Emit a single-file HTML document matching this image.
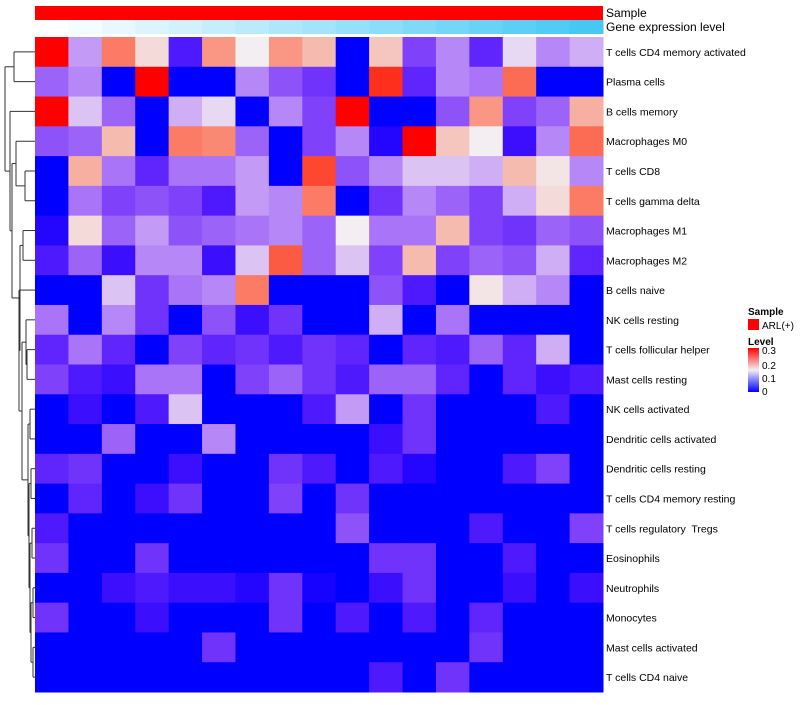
<!DOCTYPE html>
<html><head><meta charset="utf-8"><style>
body{margin:0;background:#fff;font-family:"Liberation Sans",sans-serif;}
svg text{font-family:"Liberation Sans",sans-serif;}
</style></head><body>
<svg id="chart" width="800" height="700" xmlns="http://www.w3.org/2000/svg">
<g id="dendro"></g>
<g id="cells"></g>
<g id="annot"></g>
<g id="labels"></g>
<g>
<text x="748" y="315" font-size="10" font-weight="bold">Sample</text>
<rect x="748" y="319" width="11" height="11" fill="#ff0000"/>
<text x="762" y="329" font-size="10">ARL(+)</text>
<text x="748" y="345" font-size="10" font-weight="bold">Level</text>
<defs><linearGradient id="lg" x1="0" y1="1" x2="0" y2="0">
<stop offset="0" stop-color="#0000ff"/><stop offset="0.5" stop-color="#f2eef2"/><stop offset="1" stop-color="#ff0000"/></linearGradient></defs>
<rect x="748" y="348" width="11" height="44" fill="url(#lg)"/>
<text x="762" y="354" font-size="10">0.3</text>
<text x="762" y="369" font-size="10">0.2</text>
<text x="762" y="382" font-size="10">0.1</text>
<text x="762" y="395" font-size="10">0</text>
</g>
</svg>
<script>
const rowNames=["T cells CD4 memory activated","Plasma cells","B cells memory","Macrophages M0","T cells CD8","T cells gamma delta","Macrophages M1","Macrophages M2","B cells naive","NK cells resting","T cells follicular helper","Mast cells resting","NK cells activated","Dendritic cells activated","Dendritic cells resting","T cells CD4 memory resting","T cells regulatory  Tregs","Eosinophils","Neutrophils","Monocytes","Mast cells activated","T cells CD4 naive"];
const values=[
[.3,.11,.25,.17,.03,.23,.15,.23,.2,0,.19,.06,.1,.04,.14,.1,.12],
[.08,.1,0,.3,0,0,.1,.07,.05,0,.29,.04,.1,.09,.26,0,0],
[.3,.13,.08,0,.12,.14,0,.1,.06,.3,0,0,.07,.23,.06,.08,.21],
[.07,.08,.2,0,.25,.24,.08,0,.06,.1,.01,.3,.19,.15,.02,.1,.26],
[0,.21,.09,.04,.09,.09,.11,0,.28,.07,.1,.13,.13,.12,.2,.16,.1],
[0,.09,.06,.07,.06,.03,.11,.1,.25,0,.05,.1,.08,.06,.12,.17,.25],
[.01,.17,.08,.11,.07,.08,.09,.1,.08,.15,.09,.09,.2,.06,.05,.08,.07],
[.03,.08,.02,.1,.1,.02,.13,.27,.08,.13,.06,.2,.06,.08,.07,.12,.04],
[0,0,.13,.05,.09,.1,.25,0,0,0,.07,.03,0,.16,.12,.1,0],
[.09,0,.1,.05,0,.07,.02,.05,0,0,.12,0,.09,0,0,0,0],
[.04,.09,.04,0,.06,.04,.05,.03,.05,.04,0,.04,.03,.08,.04,.12,0],
[.06,.03,.02,.09,.09,0,.06,.08,.05,.03,.08,.08,.04,0,.04,.02,.03],
[0,.02,0,.03,.13,0,0,0,.03,.11,0,.05,0,0,0,.03,0],
[0,0,.08,0,0,.1,0,0,0,0,.02,.05,0,0,0,0,0],
[.04,.05,0,0,.02,0,0,.05,.03,0,.03,.01,0,0,.03,.06,0],
[0,.04,0,.02,.05,0,0,.06,0,.05,0,0,0,0,0,0,0],
[.03,0,0,0,0,0,0,0,0,.07,0,0,0,.03,0,0,.06],
[.05,0,0,.05,0,0,0,0,0,0,.05,.05,0,0,.03,0,0],
[0,0,.02,.03,.02,.02,.01,.05,.005,0,.02,.05,0,0,.02,0,.02],
[.05,0,0,.02,0,0,0,.05,0,.03,0,.03,0,.04,0,0,0],
[0,0,0,0,0,.05,0,0,0,0,0,0,0,.05,0,0,0],
[0,0,0,0,0,0,0,0,0,0,.03,0,.05,0,0,0,0]];
const geneLevel=[0,1,2,3,4,5,6,7,8,9,10,11,12,13,14,15,16];
const tree=[5,[14,0,1],[10,2,[12,[16,3,[25,4,5]],[20,[23,6,7],[19,8,[22,[26,9,[27,10,11]],[28,[30,12,13],[29,[31,14,15],[30,[32,16,17],[31,[33,18,19],[33,20,21]]]]]]]]]]];

const NS="http://www.w3.org/2000/svg";
const X0=35,X1=603,Y0=37,Y1=692,nC=17,nR=rowNames.length;
const cw=(X1-X0)/nC,rh=(Y1-Y0)/nR;
const xs=c=>X0+c*cw, ys=r=>Y0+r*rh;
function col(v){v=Math.max(0,Math.min(.3,v));
 if(v<.15){const t=v/.15;return `rgb(${Math.round(242*Math.pow(t,.7))},${Math.round(238*Math.pow(t,1.4))},${Math.round(255-13*t)})`;}
 const t=(v-.15)/.15;return `rgb(${Math.round(242+13*t)},${Math.round(238*Math.pow(1-t,.6))},${Math.round(242*Math.pow(1-t,.8))})`;}
function mk(tag,attrs,parent){const e=document.createElementNS(NS,tag);for(const k in attrs)e.setAttribute(k,attrs[k]);parent.appendChild(e);return e;}
const cells=document.getElementById('cells');
values.forEach((row,r)=>row.forEach((v,c)=>{
 const e=mk('rect',{x:xs(c),y:ys(r),width:cw+0.5,height:rh+0.5,fill:col(v)},cells);
 
 
}));
const annot=document.getElementById('annot');
const sb=mk('rect',{x:X0,y:6,width:X1-X0,height:14,fill:'#ff0000'},annot);


const gmax=Math.max(...geneLevel);
geneLevel.forEach((g,c)=>{const t=g/gmax;
 const e=mk('rect',{x:xs(c),y:20,width:cw+0.5,height:14,fill:`rgb(${Math.round(255-185*t)},${Math.round(255-55*t)},${Math.round(255-10*t)})`},annot);
 
 
});
const t1=mk('text',{x:606,y:17,'font-size':12},annot);t1.textContent='Sample';


const t2=mk('text',{x:606,y:31,'font-size':12},annot);t2.textContent='Gene expression level';


const labels=document.getElementById('labels');
rowNames.forEach((n,r)=>{const e=mk('text',{x:606,y:ys(r)+rh/2+4,'font-size':10.5,style:'white-space:pre'},labels);e.textContent=n;
 
 
});
const dg=document.getElementById('dendro');
function line(x1,y1,x2,y2){const e=mk('line',{x1,y1,x2,y2,stroke:'#333','stroke-width':1},dg);
 
 }
function draw(n){if(typeof n==='number')return{x:X0,y:ys(n)+rh/2};
 const h=n[0],a=draw(n[1]),b=draw(n[2]);
 line(h,a.y,a.x,a.y);line(h,b.y,b.x,b.y);line(h,a.y,h,b.y);
 return{x:h,y:(a.y+b.y)/2};}
draw(tree);
</script>
</body></html>
